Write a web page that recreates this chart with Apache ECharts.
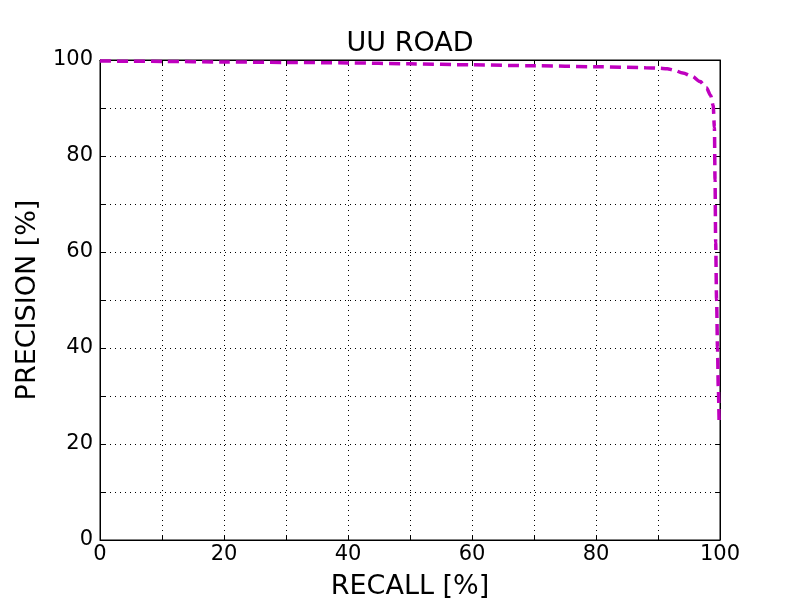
<!DOCTYPE html>
<html><head><meta charset="utf-8">
<script src="https://cdn.jsdelivr.net/npm/echarts@6/dist/echarts.min.js"></script>
<style>html,body{margin:0;padding:0;background:#fff}#c{width:800px;height:600px}</style>
</head><body><div id="c"></div>
<script>
const recall = [0, 5, 10, 20, 30, 40, 50, 60, 70, 80, 88, 90, 91.5, 92.5, 94, 95.5, 96.8, 97.8, 98.5, 98.9, 99.1, 99.2, 99.3, 99.45, 99.6, 99.72, 99.85];
const precision = [99.8, 99.75, 99.7, 99.6, 99.5, 99.4, 99.2, 99.0, 98.8, 98.6, 98.4, 98.3, 98.2, 97.9, 97.3, 96.6, 95.5, 94.2, 92.6, 90.5, 86, 75, 62, 50, 40, 32, 25];
const xTicks = [0, 20, 40, 60, 80, 100];
const yTicks = [0, 20, 40, 60, 80, 100];
const FONT = 'DejaVu Sans';
const chart = echarts.init(document.getElementById('c'));
const lbl = (ticks) => ({show: true, fontSize: 21, fontFamily: FONT, color: '#000',
  formatter: v => ticks.includes(v) ? String(v) : ''});
const common = {min: 0, max: 100, interval: 10, type: 'value'};
const tick = {show: true, inside: true, length: 5, lineStyle: {color: '#000', width: 1}};
const line = {show: true, onZero: false, lineStyle: {color: '#000', width: 1}};
chart.setOption({
  animation: false,
  grid: {left: 100, right: 80, top: 60, bottom: 60, show: true, borderColor: '#000', borderWidth: 1, outerBoundsMode: 'none', containLabel: false},
  graphic: [{type: 'text', x: 410, y: 44, style: {text: 'UU ROAD', font: '27px "DejaVu Sans"', fill: '#000', textAlign: 'center', textVerticalAlign: 'middle'}}],
  xAxis: [
    Object.assign({}, common, {position: 'bottom',
      name: 'RECALL [%]', nameLocation: 'middle', nameGap: 33,
      nameTextStyle: {fontSize: 27, fontFamily: FONT, color: '#000'},
      axisLine: line, axisTick: tick,
      axisLabel: Object.assign(lbl(xTicks), {margin: 4}),
      splitLine: {show: true, lineStyle: {color: '#000', type: [1, 4], width: 1}}}),
    Object.assign({}, common, {position: 'top',
      axisLine: line, axisTick: tick,
      axisLabel: {show: false}, splitLine: {show: false}})
  ],
  yAxis: [
    Object.assign({}, common, {position: 'left',
      name: 'PRECISION [%]', nameLocation: 'middle', nameGap: 59,
      nameTextStyle: {fontSize: 27, fontFamily: FONT, color: '#000'},
      axisLine: line, axisTick: tick,
      axisLabel: Object.assign(lbl(yTicks), {margin: 7}),
      splitLine: {show: true, lineStyle: {color: '#000', type: [1, 4], width: 1}}}),
    Object.assign({}, common, {position: 'right',
      axisLine: line, axisTick: tick,
      axisLabel: {show: false}, splitLine: {show: false}})
  ],
  series: [{
    type: 'line', xAxisIndex: 0, yAxisIndex: 0,
    data: recall.map((r, i) => [r, precision[i]]),
    showSymbol: false, smooth: 0.3, smoothMonotone: 'x', clip: false,
    lineStyle: {color: '#bf00bf', width: 3.5, type: [11, 6]}
  }]
});
</script></body></html>
